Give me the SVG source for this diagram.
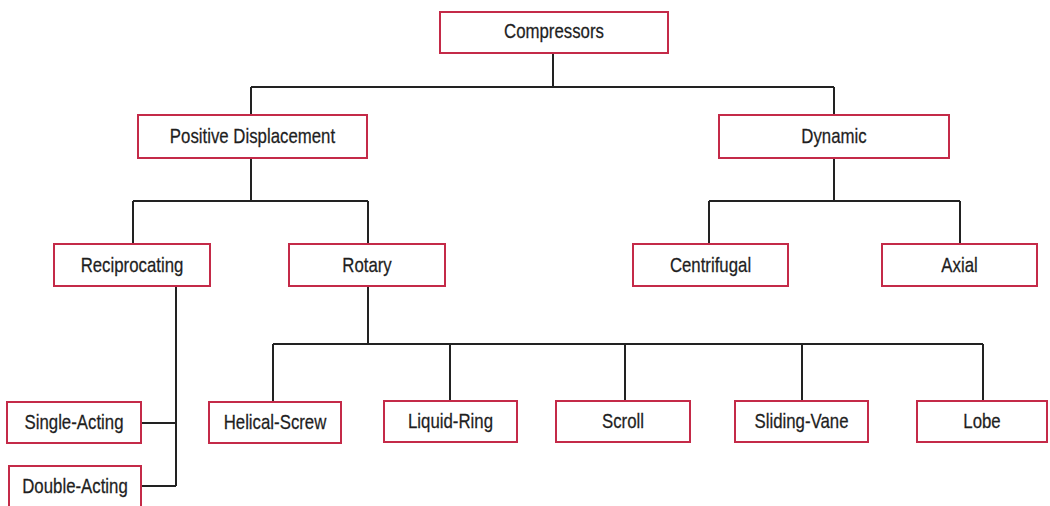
<svg xmlns="http://www.w3.org/2000/svg" width="1050" height="506" viewBox="0 0 1050 506">
  <style>
    .box { fill: #ffffff; stroke: #c42a48; stroke-width: 2; }
    /* narrow grotesque look: regular sans squeezed horizontally */
    .lbl { font-family: "Liberation Sans Narrow", "Liberation Sans", Arial, sans-serif; font-size: 20.5px; fill: #1e1e1e; text-anchor: middle; stroke: #1e1e1e; stroke-width: 0.25; }
    .wire { fill: none; stroke: #222222; stroke-width: 2; }
  </style>
  <rect width="1050" height="506" fill="#ffffff"/>

  <!-- tree connectors -->
  <g id="connectors" class="wire">
    <path d="M553 53V87M251 87H834M251 87V115M834 87V115"/>
    <path d="M251 158V201M133 201H368M133 201V244M368 201V244"/>
    <path d="M834 158V201M709 201H960M709 201V244M960 201V244"/>
    <path d="M176 286V486M141 423H176M141 486H176"/>
    <path d="M368 286V344M273 344H983M273 344V402M450 344V401M625 344V401M802 344V401M983 344V401"/>
  </g>

  <g id="compressors"><rect class="box" x="440" y="12" width="228" height="41"/><text class="lbl" transform="translate(554 38) scale(0.82 1)">Compressors</text></g>
  <g id="positive-displacement"><rect class="box" x="138" y="115" width="229" height="43"/><text class="lbl" transform="translate(252.5 142.5) scale(0.82 1)">Positive Displacement</text></g>
  <g id="dynamic"><rect class="box" x="719" y="115" width="230" height="43"/><text class="lbl" transform="translate(834 142.5) scale(0.82 1)">Dynamic</text></g>
  <g id="reciprocating"><rect class="box" x="54" y="244" width="156" height="42"/><text class="lbl" transform="translate(132 271.5) scale(0.82 1)">Reciprocating</text></g>
  <g id="rotary"><rect class="box" x="289" y="244" width="156" height="42"/><text class="lbl" transform="translate(367 271.5) scale(0.82 1)">Rotary</text></g>
  <g id="centrifugal"><rect class="box" x="633" y="244" width="155" height="42"/><text class="lbl" transform="translate(710.5 271.5) scale(0.82 1)">Centrifugal</text></g>
  <g id="axial"><rect class="box" x="882" y="244" width="155" height="42"/><text class="lbl" transform="translate(959.5 271.5) scale(0.82 1)">Axial</text></g>
  <g id="single-acting"><rect class="box" x="7" y="402" width="134" height="41"/><text class="lbl" transform="translate(74 428.5) scale(0.82 1)">Single-Acting</text></g>
  <g id="double-acting"><rect class="box" x="9" y="466" width="132" height="50"/><text class="lbl" transform="translate(75 492.5) scale(0.82 1)">Double-Acting</text></g>
  <g id="helical-screw"><rect class="box" x="209" y="402" width="132" height="41"/><text class="lbl" transform="translate(275 428.5) scale(0.82 1)">Helical-Screw</text></g>
  <g id="liquid-ring"><rect class="box" x="384" y="401" width="133" height="41"/><text class="lbl" transform="translate(450.5 427.5) scale(0.82 1)">Liquid-Ring</text></g>
  <g id="scroll"><rect class="box" x="556" y="401" width="134" height="41"/><text class="lbl" transform="translate(623 427.5) scale(0.82 1)">Scroll</text></g>
  <g id="sliding-vane"><rect class="box" x="735" y="401" width="133" height="41"/><text class="lbl" transform="translate(801.5 427.5) scale(0.82 1)">Sliding-Vane</text></g>
  <g id="lobe"><rect class="box" x="917" y="401" width="130" height="41"/><text class="lbl" transform="translate(982 427.5) scale(0.82 1)">Lobe</text></g>
</svg>
